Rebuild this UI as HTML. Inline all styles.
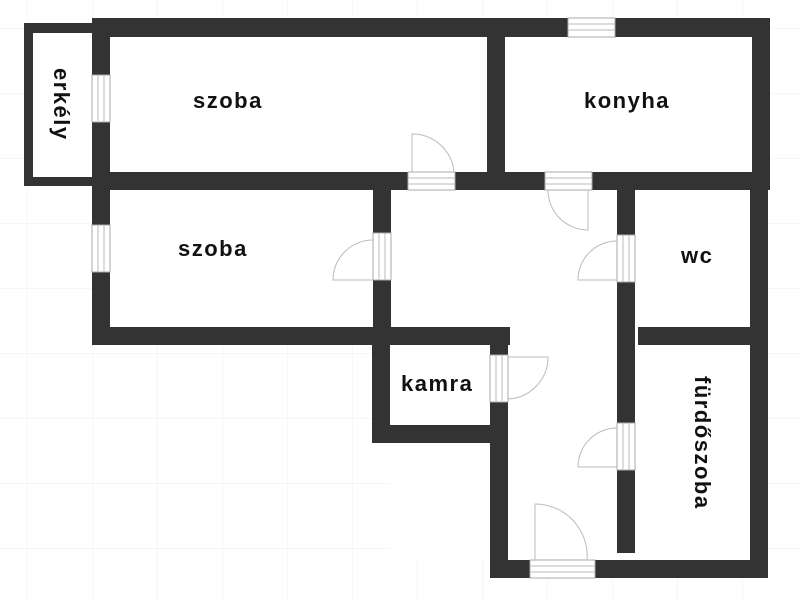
<!DOCTYPE html>
<html><head><meta charset="utf-8"><style>
html,body{margin:0;padding:0;background:#fff;width:800px;height:600px;overflow:hidden}
text{font-family:"Liberation Sans","DejaVu Sans",sans-serif;font-size:22px;fill:#111;font-weight:bold;letter-spacing:1.5px}
</style></head><body>
<svg width="800" height="600" viewBox="0 0 800 600">
<defs>
<pattern id="g" width="65" height="65" patternUnits="userSpaceOnUse" x="27" y="28">
<path d="M0 0H65M0 0V65" stroke="#ececec" stroke-width="1" fill="none"/>
</pattern>
</defs>
<rect width="800" height="600" fill="url(#g)"/>
<rect x="110" y="37" width="377" height="135" fill="#fff"/>
<rect x="505" y="37" width="247" height="135" fill="#fff"/>
<rect x="110" y="190" width="263" height="137" fill="#fff"/>
<rect x="391" y="190" width="226" height="370" fill="#fff"/>
<rect x="390" y="345" width="100" height="80" fill="#fff"/>
<rect x="635" y="190" width="115" height="370" fill="#fff"/>
<rect x="33" y="33" width="59" height="144" fill="#fff"/>
<g fill="#333">
<rect x="24" y="23" width="9" height="163"/>
<rect x="24" y="23" width="68" height="10"/>
<rect x="24" y="177" width="68" height="9"/>
<rect x="92" y="18" width="678" height="19"/>
<rect x="92" y="18" width="18" height="327"/>
<rect x="752" y="18" width="18" height="172"/>
<rect x="750" y="172" width="18" height="406"/>
<rect x="487" y="18" width="18" height="172"/>
<rect x="92" y="172" width="678" height="18"/>
<rect x="373" y="190" width="18" height="155"/>
<rect x="92" y="327" width="418" height="18"/>
<rect x="372" y="327" width="18" height="116"/>
<rect x="372" y="425" width="136" height="18"/>
<rect x="490" y="327" width="18" height="251"/>
<rect x="490" y="560" width="278" height="18"/>
<rect x="617" y="190" width="18" height="363"/>
<rect x="638" y="327" width="130" height="18"/>
</g>
<g fill="#fff" stroke="#aaa" stroke-width="1">
<rect x="568" y="18" width="47" height="19"/>
<rect x="408" y="172" width="47" height="18"/>
<rect x="545" y="172" width="47" height="18"/>
<rect x="530" y="560" width="65" height="18"/>
<rect x="92" y="75" width="18" height="47"/>
<rect x="92" y="225" width="18" height="47"/>
<rect x="373" y="233" width="18" height="47"/>
<rect x="490" y="355" width="18" height="47"/>
<rect x="617" y="235" width="18" height="47"/>
<rect x="617" y="423" width="18" height="47"/>
</g>
<g stroke="#bbb" stroke-width="1" fill="none">
<path d="M568 24H615M568 30H615M408 178H455M408 184H455M545 178H592M545 184H592M530 566H595M530 572H595"/>
<path d="M98 75V122M104 75V122M98 225V272M104 225V272M379 233V280M385 233V280M496 355V402M502 355V402M623 235V282M629 235V282M623 423V470M629 470V423"/>
<path d="M412 172V134A42 42 0 0 1 454 172"/>
<path d="M588 190V230A40 40 0 0 1 548 190"/>
<path d="M373 280H333A40 40 0 0 1 373 240"/>
<path d="M508 357H548A42 42 0 0 1 508 399"/>
<path d="M617 280H578A39 39 0 0 1 617 241"/>
<path d="M617 467H578A39 39 0 0 1 617 428"/>
<path d="M535 560V504A52 52 0 0 1 587 560"/>
</g>
<text x="193" y="108">szoba</text>
<text x="178" y="256">szoba</text>
<text x="584" y="108">konyha</text>
<text x="681" y="263">wc</text>
<text x="401" y="391">kamra</text>
<text transform="translate(54,68) rotate(90)">erkély</text>
<text transform="translate(695,376) rotate(90)">fürdőszoba</text>
</svg>
</body></html>
